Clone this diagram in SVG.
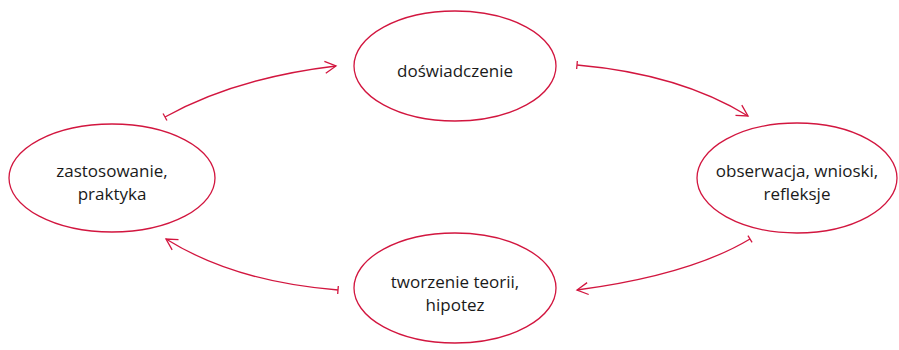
<svg xmlns="http://www.w3.org/2000/svg" width="899" height="350" viewBox="0 0 899 350">
<style>
.node ellipse{fill:#fff;stroke:#d2163f;stroke-width:1.3}
.node text{font-family:"Open Sans","Lato",sans-serif;font-size:17px;fill:#1a1a1a;text-anchor:middle}
.conn path{fill:none;stroke:#d2163f;stroke-width:1.3}
</style>
<defs>
<marker id="head" viewBox="-12 -7 14 14" refX="0" refY="0" markerWidth="14" markerHeight="14" markerUnits="userSpaceOnUse" orient="auto">
<path d="M-11,-6 L0,0 L-11,6" fill="none" stroke="#d2163f" stroke-width="1.3"/>
</marker>
<marker id="tick" viewBox="-4 -5 8 10" refX="0" refY="0" markerWidth="8" markerHeight="10" markerUnits="userSpaceOnUse" orient="auto">
<path d="M0,-4 L0,4" fill="none" stroke="#d2163f" stroke-width="1.3"/>
</marker>
</defs>
<g class="conn">
<path d="M165,117 Q235,78 336,66" marker-start="url(#tick)" marker-end="url(#head)"/>
<path d="M577,65 Q680,74 748,116" marker-start="url(#tick)" marker-end="url(#head)"/>
<path d="M750,239 Q690,275 577,290" marker-start="url(#tick)" marker-end="url(#head)"/>
<path d="M338,290 Q235,282 166,239" marker-start="url(#tick)" marker-end="url(#head)"/>
</g>
<g id="doswiadczenie" class="node">
<ellipse cx="455" cy="66" rx="101" ry="55"/>
<text x="455" y="77">doświadczenie</text>
</g>
<g id="obserwacja" class="node">
<ellipse cx="797" cy="178" rx="100" ry="55"/>
<text x="797" y="177">obserwacja, wnioski,</text>
<text x="797" y="200">refleksje</text>
</g>
<g id="tworzenie" class="node">
<ellipse cx="455" cy="288" rx="101" ry="55"/>
<text x="455" y="288">tworzenie teorii,</text>
<text x="455" y="311">hipotez</text>
</g>
<g id="zastosowanie" class="node">
<ellipse cx="112" cy="178" rx="103" ry="54"/>
<text x="112" y="177">zastosowanie,</text>
<text x="112" y="200">praktyka</text>
</g>
</svg>
